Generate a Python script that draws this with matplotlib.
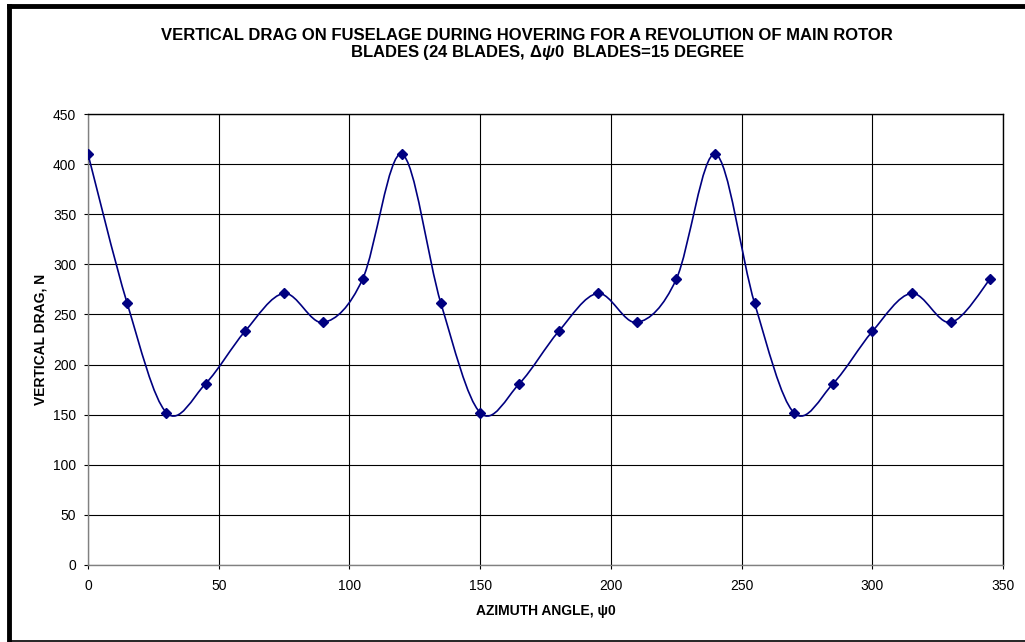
import numpy as np
import matplotlib
matplotlib.use("Agg")
import matplotlib.pyplot as plt
from matplotlib.path import Path
from matplotlib.patches import PathPatch
from matplotlib.lines import Line2D

plt.rcParams['font.family'] = ['Liberation Sans', 'DejaVu Sans']
plt.rcParams['mathtext.fontset'] = 'custom'
plt.rcParams['mathtext.it'] = 'Liberation Sans:italic:bold'
plt.rcParams['mathtext.rm'] = 'Liberation Sans:bold'

# data
azimuth = [0, 15, 30, 45, 60, 75, 90, 105, 120, 135, 150, 165,
           180, 195, 210, 225, 240, 255, 270, 285, 300, 315, 330, 345]
drag = [410, 261, 152, 181, 233, 271, 242, 285, 410, 261, 152, 181,
        233, 271, 242, 285, 410, 261, 152, 181, 233, 271, 242, 285]
xticks = [0, 50, 100, 150, 200, 250, 300, 350]
yticks = [0, 50, 100, 150, 200, 250, 300, 350, 400, 450]

title1 = "VERTICAL DRAG ON FUSELAGE DURING HOVERING FOR A REVOLUTION OF MAIN ROTOR"
title2 = r"BLADES (24 BLADES, $\mathit{\Delta\psi0}$  BLADES=15 DEGREE"

navy = '#000080'

fig = plt.figure(figsize=(10.25, 6.42), dpi=100)
ax = fig.add_axes([88 / 1025, 1 - 565 / 642, 915 / 1025, 451 / 642])

# smoothed line (Excel style bezier through the points)
x = np.array(azimuth, float)
y = np.array(drag, float)
px = np.concatenate([[x[0]], x, [x[-1]]])
py = np.concatenate([[y[0]], y, [y[-1]]])
verts = [(x[0], y[0])]
codes = [Path.MOVETO]
for i in range(1, len(px) - 2):
    c1 = (px[i] + (px[i + 1] - px[i - 1]) / 6, py[i] + (py[i + 1] - py[i - 1]) / 6)
    c2 = (px[i + 1] - (px[i + 2] - px[i]) / 6, py[i + 1] - (py[i + 2] - py[i]) / 6)
    verts += [c1, c2, (px[i + 1], py[i + 1])]
    codes += [Path.CURVE4] * 3
ax.add_patch(PathPatch(Path(verts, codes), facecolor='none', edgecolor=navy, lw=1.2, zorder=3))
ax.plot(azimuth, drag, linestyle='none', marker='D', markersize=5, color=navy, zorder=4)

ax.set_xlim(0, 350)
ax.set_ylim(0, 450)
ax.set_xticks(xticks)
ax.set_yticks(yticks)
ax.grid(True, color='black', lw=0.8)
ax.set_axisbelow(True)
ax.tick_params(axis='x', direction='out', length=3, width=0.8, labelsize=10, pad=7)
ax.tick_params(axis='y', direction='out', length=3, width=0.8, labelsize=10, pad=5.5)
for s in ['left', 'bottom']:
    ax.spines[s].set_color('#808080')
for s in ['top', 'right']:
    ax.spines[s].set_color('black')
for s in ax.spines.values():
    s.set_linewidth(1.0)

ax.set_xlabel("AZIMUTH ANGLE, ψ0", fontsize=10, fontweight='bold', labelpad=8)
ax.set_ylabel("VERTICAL DRAG, N", fontsize=10, fontweight='bold', labelpad=3.5)

fig.text(527 / 1025, 1 - 35 / 642, title1, ha='center', va='center', fontsize=12,
         fontweight='bold')
fig.text(548 / 1025, 1 - 52.5 / 642, title2, ha='center', va='center', fontsize=12,
         fontweight='bold')

# outer chart frame
fig.add_artist(Line2D([9 / 1025, 9 / 1025], [1 - 6 / 642, 1 - 641 / 642], color='black', lw=3.5,
                      transform=fig.transFigure))
fig.add_artist(Line2D([9 / 1025, 1.0], [1 - 6 / 642, 1 - 6 / 642], color='black', lw=3.5,
                      transform=fig.transFigure))
fig.add_artist(Line2D([9 / 1025, 1.0], [1 - 640.5 / 642, 1 - 640.5 / 642], color='black', lw=1.2,
                      transform=fig.transFigure))

fig.savefig("out.png", dpi=100)
